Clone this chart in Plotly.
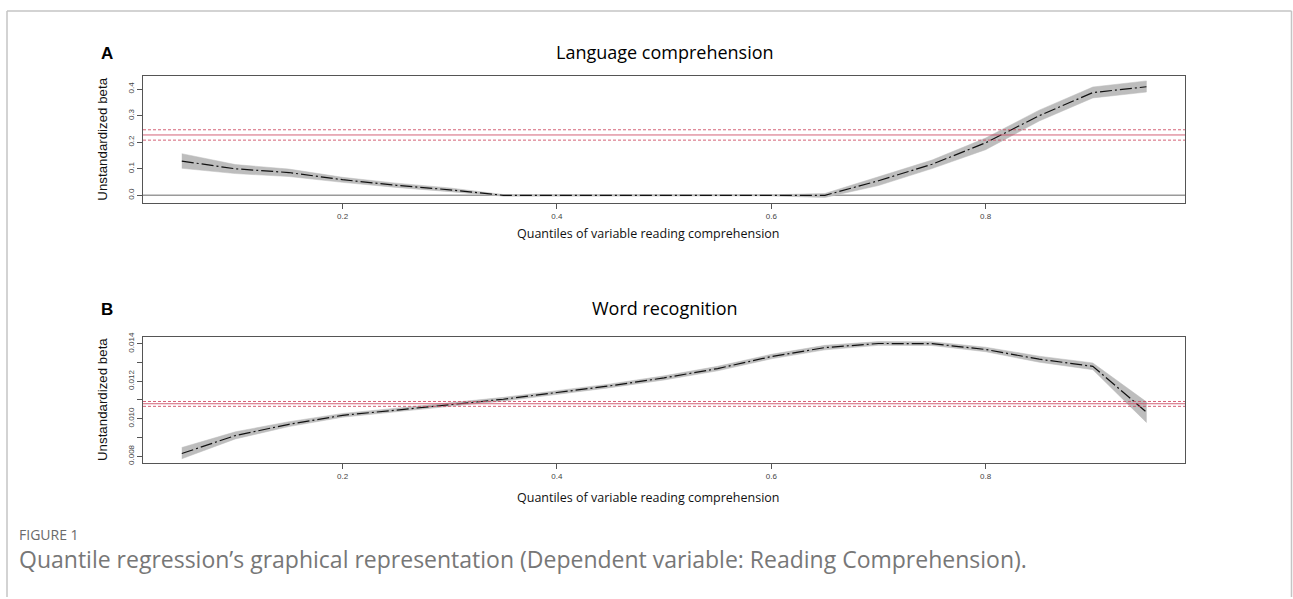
import plotly.graph_objects as go

W, H = 1293, 599

quantiles = [0.05, 0.10, 0.15, 0.20, 0.25, 0.30, 0.35, 0.40, 0.45, 0.50,
             0.55, 0.60, 0.65, 0.70, 0.75, 0.80, 0.85, 0.90, 0.95]

# Panel A: Language comprehension
lang_beta = [0.129, 0.100, 0.086, 0.059, 0.038, 0.021, 0.0, 0.0, 0.0, 0.0,
             0.0, 0.0, 0.0, 0.055, 0.117, 0.198, 0.300, 0.387, 0.409]
lang_lo = [0.102, 0.082, 0.071, 0.049, 0.030, 0.014, -0.003, -0.002, -0.002, -0.002,
           -0.002, -0.002, -0.008, 0.037, 0.101, 0.172, 0.280, 0.367, 0.389]
lang_hi = [0.157, 0.116, 0.099, 0.068, 0.046, 0.028, 0.003, 0.002, 0.002, 0.002,
           0.002, 0.002, 0.007, 0.070, 0.133, 0.216, 0.321, 0.408, 0.431]
lang_ols = 0.2275
lang_ols_ci = [0.208, 0.247]

# Panel B: Word recognition
word_beta = [0.00814, 0.00910, 0.00970, 0.01018, 0.01046, 0.01076, 0.01104, 0.01140, 0.01176, 0.01218,
             0.01268, 0.01332, 0.01380, 0.01402, 0.01401, 0.01370, 0.01318, 0.01280, 0.01035]
word_lo = [0.00786, 0.00892, 0.00958, 0.01008, 0.01036, 0.01066, 0.01094, 0.01130, 0.01166, 0.01207,
           0.01256, 0.01320, 0.01368, 0.01392, 0.01391, 0.01358, 0.01302, 0.01262, 0.00980]
word_hi = [0.00846, 0.00930, 0.00984, 0.01028, 0.01056, 0.01086, 0.01114, 0.01150, 0.01186, 0.01229,
           0.01280, 0.01344, 0.01392, 0.01412, 0.01411, 0.01382, 0.01334, 0.01298, 0.01090]
word_ols = 0.01080
word_ols_ci = [0.01066, 0.01092]

x_ticks = [0.2, 0.4, 0.6, 0.8]
x_ticktext = ["0.2", "0.4", "0.6", "0.8"]
lang_yticks = [0.0, 0.1, 0.2, 0.3, 0.4]
lang_yticktext = ["0.0", "0.1", "0.2", "0.3", "0.4"]
word_yticks = [0.008, 0.009, 0.010, 0.011, 0.012, 0.013, 0.014]
word_yticktext = ["0.008", "", "0.010", "", "0.012", "", "0.014"]

titles = ["Language comprehension", "Word recognition"]
panel_letters = ["A", "B"]
ytitle = "Unstandardized beta"
xtitle = "Quantiles of variable reading comprehension"
fig_label = "FIGURE 1"
caption = "Quantile regression\u2019s graphical representation (Dependent variable: Reading Comprehension)."


def px(x):
    return x / W


def py(y):
    return 1 - y / H


fig = go.Figure()

BAND = "#bdbdbd"
LINE_DASH = "12px,3px,2px,3px"

for i, (beta, lo, hi) in enumerate([(lang_beta, lang_lo, lang_hi), (word_beta, word_lo, word_hi)]):
    xa = "x" if i == 0 else "x2"
    ya = "y" if i == 0 else "y2"
    fig.add_trace(go.Scatter(
        x=quantiles + quantiles[::-1], y=hi + lo[::-1],
        fill="toself", fillcolor=BAND, line=dict(color=BAND, width=0.5),
        mode="lines", xaxis=xa, yaxis=ya, hoverinfo="skip", showlegend=False))
    fig.add_trace(go.Scatter(
        x=quantiles, y=beta, mode="lines",
        line=dict(color="#111111", width=1.2, dash=LINE_DASH),
        xaxis=xa, yaxis=ya, showlegend=False))

shapes = []
# zero line panel A
shapes.append(dict(type="line", xref="x domain", yref="y", x0=0, x1=1, y0=0, y1=0,
                   line=dict(color="#9a9a9a", width=1.5), layer="below"))
RED = "rgba(205,70,95,0.85)"
for yref, ols, ci in [("y", lang_ols, lang_ols_ci), ("y2", word_ols, word_ols_ci)]:
    xref = "x domain" if yref == "y" else "x2 domain"
    shapes.append(dict(type="line", xref=xref, yref=yref, x0=0, x1=1, y0=ols, y1=ols,
                       line=dict(color=RED, width=1), layer="above"))
    for c in ci:
        shapes.append(dict(type="line", xref=xref, yref=yref, x0=0, x1=1, y0=c, y1=c,
                           line=dict(color=RED, width=1, dash="3px,2px"), layer="above"))

# outer frame
FR = "#c4c4c4"
shapes.append(dict(type="line", xref="paper", yref="paper", x0=px(7), x1=px(7), y0=0, y1=py(7),
                   line=dict(color=FR, width=1.5)))
shapes.append(dict(type="line", xref="paper", yref="paper", x0=px(7), x1=px(1291.5), y0=py(7), y1=py(7),
                   line=dict(color=FR, width=1.5)))
shapes.append(dict(type="line", xref="paper", yref="paper", x0=px(1291.5), x1=px(1291.5), y0=0, y1=py(7),
                   line=dict(color=FR, width=1.5)))

annotations = []
for i, (ty, yt_c, xt_y) in enumerate([(48, 137, 232), (307, 400, 498)]):
    annotations.append(dict(text="<b>" + panel_letters[i] + "</b>", x=px(106.5), y=py(ty + 2),
                            xref="paper", yref="paper", showarrow=False, xanchor="center", yanchor="middle",
                            font=dict(family="Liberation Sans, Arial", size=17, color="#000")))
    annotations.append(dict(text=titles[i], x=px(665), y=py(ty),
                            xref="paper", yref="paper", showarrow=False, xanchor="center", yanchor="middle",
                            font=dict(family="Open Sans", size=18, color="#000")))
    annotations.append(dict(text=ytitle, x=px(103), y=py(yt_c), textangle=-90,
                            xref="paper", yref="paper", showarrow=False, xanchor="center", yanchor="middle",
                            font=dict(family="Liberation Sans, Arial", size=13.3, color="#111")))
    annotations.append(dict(text=xtitle, x=px(648), y=py(xt_y),
                            xref="paper", yref="paper", showarrow=False, xanchor="center", yanchor="middle",
                            font=dict(family="Open Sans", size=12.5, color="#111")))

annotations.append(dict(text=fig_label, x=px(17), y=py(536), xref="paper", yref="paper", showarrow=False,
                        xanchor="left", yanchor="middle",
                        font=dict(family="Open Sans", size=14, color="#6a6a6a")))
annotations.append(dict(text=caption, x=px(17), y=py(561), xref="paper", yref="paper", showarrow=False,
                        xanchor="left", yanchor="middle",
                        font=dict(family="Open Sans", size=23, color="#777777")))

axis_common = dict(showgrid=False, zeroline=False, showline=True, mirror=True,
                   linecolor="#555555", linewidth=1, ticks="outside", ticklen=5,
                   tickcolor="#555555", tickfont=dict(family="Liberation Sans, Arial", size=8, color="#444"))

xrange = [0.0138, 0.986]
fig.update_layout(
    width=W, height=H, margin=dict(l=0, r=0, t=0, b=0),
    paper_bgcolor="white", plot_bgcolor="white", showlegend=False,
    xaxis=dict(domain=[px(143), px(1185)], range=xrange, tickvals=x_ticks, ticktext=x_ticktext,
               anchor="y", **axis_common),
    yaxis=dict(domain=[py(201), py(73)], range=[-0.0287, 0.4485], tickvals=lang_yticks,
               ticktext=lang_yticktext, tickangle=-90, anchor="x", **axis_common),
    xaxis2=dict(domain=[px(143), px(1185)], range=xrange, tickvals=x_ticks, ticktext=x_ticktext,
                anchor="y2", **axis_common),
    yaxis2=dict(domain=[py(464), py(336)], range=[0.007614, 0.014386], tickvals=word_yticks,
                ticktext=word_yticktext, tickangle=-90, anchor="x2", **axis_common),
    shapes=shapes, annotations=annotations,
)

fig.write_html("out.html", config={"displayModeBar": False},
               post_script="document.body.style.margin='0';document.body.style.overflow='hidden';")
